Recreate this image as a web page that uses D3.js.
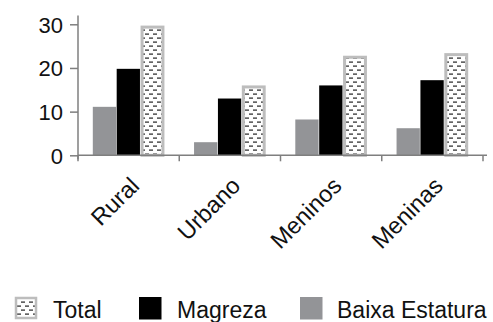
<!DOCTYPE html>
<html><head><meta charset="utf-8">
<script src="https://cdn.jsdelivr.net/npm/d3@7"></script>
<style>
html,body{margin:0;padding:0;background:#fff;}
svg{display:block;font-family:"Liberation Sans",Arial,sans-serif;}
</style></head>
<body>
<svg id="chart" width="493" height="322"></svg>
<script>
const categories = ["Rural", "Urbano", "Meninos", "Meninas"];
const seriesNames = ["Baixa Estatura", "Magreza", "Total"];
const baixaEstatura = [11.1, 3.0, 8.2, 6.2];
const magreza = [19.8, 13.0, 16.0, 17.2];
const total = [29.7, 16.0, 22.8, 23.4];
const yTicks = [0, 10, 20, 30];
const legendOrder = ["Total", "Magreza", "Baixa Estatura"];

const seriesValues = {"Baixa Estatura": baixaEstatura, "Magreza": magreza, "Total": total};
const svg = d3.select("#chart");
const defs = svg.append("defs");
const pat = defs.append("pattern").attr("id","dash").attr("patternUnits","userSpaceOnUse")
  .attr("width",8).attr("height",8);
pat.append("rect").attr("width",8).attr("height",8).attr("fill","#fff");
pat.append("rect").attr("x",1).attr("y",1.5).attr("width",4).attr("height",1.2).attr("fill","#222");
pat.append("rect").attr("x",5).attr("y",5.5).attr("width",4).attr("height",1.2).attr("fill","#222");
pat.append("rect").attr("x",-3).attr("y",5.5).attr("width",4).attr("height",1.2).attr("fill","#222");

const left = 78, right = 483, y0 = 155.3;
const x = d3.scaleBand().domain(categories).range([left, right]).padding(0);
const x1 = d3.scaleBand().domain(seriesNames).range([0, x.bandwidth()]).paddingInner(0).paddingOuter(0.62);
const y = d3.scaleLinear().domain([0, 32]).range([y0, y0 - 32 * 4.367]);

const fills = {"Baixa Estatura": "#939497", "Magreza": "#000", "Total": "url(#dash)"};
const axisColor = "#7f7f7f";

// bars
seriesNames.forEach(s => {
  const vals = seriesValues[s];
  const g = svg.append("g");
  g.selectAll("rect").data(categories).join("rect")
    .attr("x", (c) => x(c) + x1(s) + (s === "Total" ? 1.5 : 0))
    .attr("y", (c, i) => y(vals[i]) + (s === "Total" ? 1.5 : 0))
    .attr("width", x1.bandwidth() - (s === "Total" ? 3 : 0.6))
    .attr("height", (c, i) => y0 - y(vals[i]) - (s === "Total" ? 1.5 : 0))
    .attr("fill", fills[s])
    .attr("stroke", s === "Total" ? "#bdbdbd" : "none")
    .attr("stroke-width", 3);
});

// y axis
const yAxis = d3.axisLeft(y).tickValues(yTicks).tickSize(8).tickPadding(7).tickFormat(d3.format("d"));
const gy = svg.append("g").attr("transform", `translate(${left},0)`).call(yAxis);
gy.select(".domain").remove();
gy.append("line").attr("x1",0).attr("x2",0).attr("y1",y(32)).attr("y2",y0+4).attr("stroke",axisColor).attr("stroke-width",1.5);
gy.selectAll(".tick line").attr("stroke", axisColor).attr("stroke-width",1.5);
gy.selectAll(".tick text").attr("font-size", 22).attr("fill","#111").attr("font-family","Liberation Sans, Arial").attr("dy","0.36em");

// x axis
const xTickPos = categories.map(c => x(c)).concat([right]);
const gx = svg.append("g");
gx.append("line").attr("x1", left).attr("x2", right + 4).attr("y1", y0).attr("y2", y0).attr("stroke", axisColor).attr("stroke-width", 1.5);
gx.selectAll("line.t").data(xTickPos).join("line").attr("class","t")
  .attr("x1", d => d).attr("x2", d => d).attr("y1", y0).attr("y2", y0 + 6)
  .attr("stroke", axisColor).attr("stroke-width", 1.5);
gx.selectAll("text").data(categories).join("text")
  .attr("transform", c => `translate(${x(c) + x.bandwidth()/2},${y0 + 20}) rotate(-45)`)
  .attr("text-anchor","end").attr("dy","0.72em")
  .attr("font-size", 23.5).attr("fill","#111")
  .text(c => c);

// legend
const legendPos = {"Total": [15, 53], "Magreza": [139, 177], "Baixa Estatura": [300, 337]};
const lg = svg.append("g");
legendOrder.forEach(s => {
  const [sx, tx] = legendPos[s];
  if (s === "Total") {
    lg.append("rect").attr("x", sx + 1).attr("y", 298).attr("width", 20).attr("height", 20)
      .attr("fill", fills[s]).attr("stroke", "#bdbdbd").attr("stroke-width", 2.5);
  } else {
    lg.append("rect").attr("x", sx).attr("y", 297).attr("width", 22.5).attr("height", 22.5).attr("fill", fills[s]);
  }
  lg.append("text").attr("x", tx).attr("y", 318.3).attr("font-size", 23).attr("fill","#111").text(s);
});
</script>
</body></html>
